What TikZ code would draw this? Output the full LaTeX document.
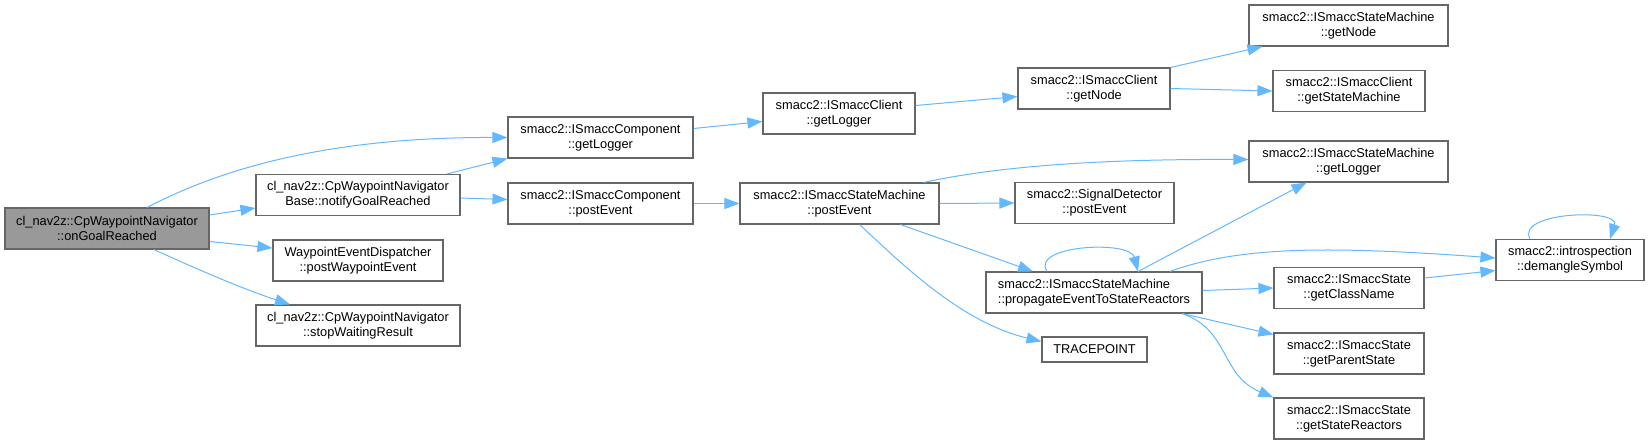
\documentclass[tikz,border=0pt]{standalone}
\usepackage{fontspec}
\setmainfont{Liberation Sans}
\usetikzlibrary{arrows.meta}

\definecolor{edgeblue}{RGB}{99,184,255}
\definecolor{boxgray}{RGB}{102,102,102}
\definecolor{mainfill}{RGB}{153,153,153}

\tikzset{
  fn/.style={draw=boxgray, line width=1.1pt, fill=white, inner sep=0pt,
    minimum height=41pt, align=center,
    font=\fontsize{12.8}{15}\selectfont},
  call/.style={draw=edgeblue, line width=1pt,
    -{Triangle[length=15pt,width=11pt]}},
}

\begin{document}
\begin{tikzpicture}[x=1pt, y=-1pt]
  \useasboundingbox (0,0) rectangle (1649,445);

  % --- 1. 呼び出し元 ---
  \node[fn, fill=mainfill, minimum width=204pt] (gr) at (107,228.5)
    {cl\_nav2z::CpWaypointNavigator\\::onGoalReached};

  % --- 2. 第1段 ---
  \node[fn, minimum width=204pt] (notify) at (358,195)
    {cl\_nav2z::CpWaypointNavigator\\Base::notifyGoalReached};
  \node[fn, minimum width=170pt] (wpe) at (358,260.5)
    {WaypointEventDispatcher\\::postWaypointEvent};
  \node[fn, minimum width=204pt] (stop) at (358,325.5)
    {cl\_nav2z::CpWaypointNavigator\\::stopWaitingResult};

  % --- 3. 第2段 ---
  \node[fn, minimum width=185pt] (cgl) at (600.5,137.5)
    {smacc2::ISmaccComponent\\::getLogger};
  \node[fn, minimum width=185pt] (cpe) at (600.5,203.5)
    {smacc2::ISmaccComponent\\::postEvent};

  % --- 4. 第3段 ---
  \node[fn, minimum width=152pt] (clgl) at (839,113.5)
    {smacc2::ISmaccClient\\::getLogger};
  \node[fn, minimum width=199pt] (smpe) at (839.5,203.5)
    {smacc2::ISmaccStateMachine\\::postEvent};

  % --- 5. 第4段 ---
  \node[fn, minimum width=152pt] (clgn) at (1094,88.5)
    {smacc2::ISmaccClient\\::getNode};
  \node[fn, minimum width=159pt] (sdpe) at (1094.5,203)
    {smacc2::SignalDetector\\::postEvent};
  \node[fn, minimum width=216pt, align=left] (prop) at (1094,292.5)
    {smacc2::ISmaccStateMachine\\::propagateEventToStateReactors};
  \node[fn, minimum width=105pt, minimum height=25pt] (tp) at (1094.5,349.5)
    {TRACEPOINT};

  % --- 6. 第5段 ---
  \node[fn, minimum width=199pt] (smgn) at (1348.5,25.5)
    {smacc2::ISmaccStateMachine\\::getNode};
  \node[fn, minimum width=152pt] (clsm) at (1349,91)
    {smacc2::ISmaccClient\\::getStateMachine};
  \node[fn, minimum width=199pt] (smgl) at (1348.5,161.5)
    {smacc2::ISmaccStateMachine\\::getLogger};
  \node[fn, minimum width=150pt] (gcn) at (1349,288)
    {smacc2::ISmaccState\\::getClassName};
  \node[fn, minimum width=150pt] (gps) at (1349,353.5)
    {smacc2::ISmaccState\\::getParentState};
  \node[fn, minimum width=150pt] (gsr) at (1349,418.5)
    {smacc2::ISmaccState\\::getStateReactors};

  % --- 7. 第6段 ---
  \node[fn, minimum width=148pt] (dm) at (1570,260)
    {smacc2::introspection\\::demangleSymbol};

  % --- 8. 呼び出し (矢印) ---
  \draw[call] ([xshift=40pt]gr.north) .. controls (215,172) and (320,137) .. (cgl.west);
  \draw[call] ([yshift=13.5pt]gr.east) -- ([yshift=-13pt]notify.west);
  \draw[call] ([yshift=-13pt]gr.east) -- ([yshift=12.5pt]wpe.west);
  \draw[call] ([xshift=47pt]gr.south) .. controls (190,266) and (240,288) .. ([xshift=-68pt]stop.north);

  \draw[call] ([xshift=89pt]notify.north) -- (cgl.south west);
  \draw[call] ([yshift=-3pt]notify.east) -- ([yshift=4pt]cpe.west);

  \draw[call] ([yshift=9pt]cgl.east) -- ([yshift=-8pt]clgl.west);
  \draw[call] (cpe.east) -- (smpe.west);

  \draw[call] ([yshift=8pt]clgl.east) -- ([yshift=-8pt]clgn.west);
  \draw[call] (clgn.north east) -- ([xshift=14pt]smgn.south west);
  \draw[call] (clgn.east) -- (clsm.west);

  \draw[call] ([xshift=84pt]smpe.north) .. controls (1000,166) and (1100,159) .. ([yshift=2pt]smgl.west);
  \draw[call] (smpe.east) -- (sdpe.west);
  \draw[call] ([xshift=61pt]smpe.south) -- ([xshift=-61pt]prop.north);
  \draw[call] ([xshift=20pt]smpe.south) .. controls (900,262) and (960,322) .. ([yshift=8pt]tp.west);

  % 再帰呼び出し
  \draw[call] ([xshift=-47pt]prop.north) .. controls (1030,245) and (1130,240) .. ([xshift=44pt]prop.north);
  \draw[call] ([xshift=44pt]prop.north) -- ([xshift=-42pt]smgl.south);
  \draw[call] ([xshift=76pt]prop.north) .. controls (1240,246) and (1330,246) .. ([yshift=2pt]dm.west);
  \draw[call] ([yshift=2pt]prop.east) -- (gcn.west);
  \draw[call] ([xshift=88pt]prop.south) -- ([yshift=-2pt]gps.north west);
  \draw[call] ([xshift=88pt]prop.south) .. controls (1230,330) and (1220,375) .. (gsr.north west);

  \draw[call] ([yshift=10pt]gcn.east) -- ([yshift=-10.5pt]dm.west);
  \draw[call] ([xshift=-40pt]dm.north) .. controls (1515,212) and (1620,208) .. ([xshift=40pt]dm.north);
\end{tikzpicture}
\end{document}
